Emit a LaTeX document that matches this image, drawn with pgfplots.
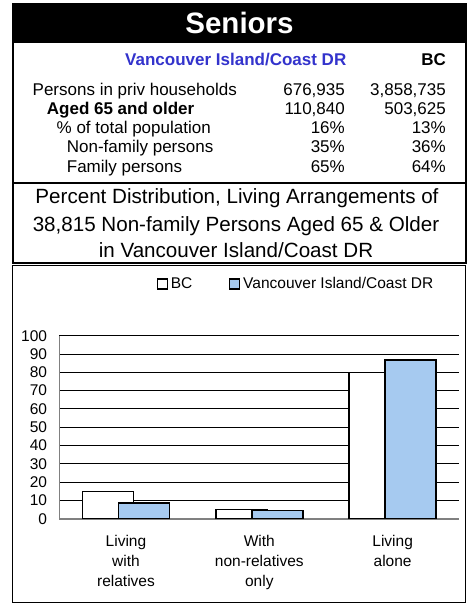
\documentclass[border=0pt]{standalone}
\usepackage{pgfplots}
\pgfplotsset{compat=1.18}
\usepackage{fontspec}
\setmainfont{Liberation Sans}
\definecolor{vibar}{RGB}{166,202,240}
\definecolor{hdrblue}{RGB}{51,51,204}
\begin{document}
\begin{tikzpicture}
\useasboundingbox (0,0) rectangle (469bp,-603bp);
% black title band
\fill[black] (12bp,-3.3bp) rectangle (467bp,-42.7bp);
\node[text=white, inner sep=0pt, anchor=base, font=\fontsize{29.5bp}{34bp}\selectfont\bfseries] at (239.5bp,-33.8bp) {Seniors};
% table box
\draw[line width=2bp] (13bp,-42.7bp) -- (13bp,-182.5bp) -- (466bp,-182.5bp) -- (466bp,-42.7bp);
% subtitle box
\draw[line width=2bp] (13bp,-182.5bp) -- (13bp,-263bp) -- (466bp,-263bp) -- (466bp,-182.5bp);
% chart box
\draw[line width=1bp] (12.5bp,-265.5bp) rectangle (465.5bp,-602bp);
% table
\begin{scope}[every node/.style={inner sep=0pt, font=\fontsize{17bp}{20bp}\selectfont}]
\node[anchor=base east, text=hdrblue, font=\fontsize{17bp}{20bp}\selectfont\bfseries] at (346.5bp,-65bp) {Vancouver Island/Coast DR};
\node[anchor=base east, font=\fontsize{17bp}{20bp}\selectfont\bfseries] at (446bp,-65bp) {BC};
\node[anchor=base west] at (32.5bp,-95bp) {Persons in priv households};
\node[anchor=base west, font=\fontsize{17bp}{20bp}\selectfont\bfseries] at (46.7bp,-114.3bp) {Aged 65 and older};
\node[anchor=base west] at (56.5bp,-133.3bp) {\% of total population};
\node[anchor=base west] at (66.7bp,-152.7bp) {Non-family persons};
\node[anchor=base west] at (66.7bp,-172.7bp) {Family persons};
\node[anchor=base east] at (345bp,-95bp) {676,935};
\node[anchor=base east] at (345bp,-114.3bp) {110,840};
\node[anchor=base east] at (345bp,-133.3bp) {16\%};
\node[anchor=base east] at (345bp,-152.7bp) {35\%};
\node[anchor=base east] at (345bp,-172.7bp) {65\%};
\node[anchor=base east] at (446bp,-95bp) {3,858,735};
\node[anchor=base east] at (446bp,-114.3bp) {503,625};
\node[anchor=base east] at (446bp,-133.3bp) {13\%};
\node[anchor=base east] at (446bp,-152.7bp) {36\%};
\node[anchor=base east] at (446bp,-172.7bp) {64\%};
\end{scope}
% subtitle
\begin{scope}[every node/.style={inner sep=0pt, anchor=base, font=\fontsize{20.6bp}{24bp}\selectfont}]
\node at (237bp,-203.7bp) {Percent Distribution, Living Arrangements of};
\node at (236bp,-231.3bp) {38,815 Non-family Persons Aged 65 \& Older};
\node at (236bp,-257bp) {in Vancouver Island/Coast DR};
\end{scope}
\begin{axis}[
  at={(59.3bp,-518.7bp)}, anchor=south west,
  scale only axis, width=400bp, height=183bp,
  xmin=-0.5, xmax=2.5, ymin=0, ymax=100,
  ybar, bar width=0.383,
  legend image code/.code={\draw[#1, draw=black, line width=1.2bp] (0bp,-5bp) rectangle (10bp,5bp);},
  axis lines*=left,
  x axis line style={draw=gray, line width=1.6bp},
  y axis line style={draw=gray, line width=1.2bp},
  ymajorgrids, grid style={black, line width=0.9bp},
  major tick length=0pt,
  ytick={0,10,...,100},
  xtick={0,1,2},
  xticklabels={{Living\\with\\relatives},{With\\non-relatives\\only},{Living\\alone}},
  /pgf/number format/assume math mode=true,
  tick label style={font=\fontsize{15.5bp}{20bp}\selectfont},
  yticklabel style={inner sep=0pt, xshift=-12bp},
  xticklabel style={inner sep=0pt, align=center, yshift=-16.7bp},
  legend columns=2,
  legend style={at={(0.2435,1.2825)}, anchor=west, draw=none, fill=none, inner sep=0pt,
    font=\fontsize{15.5bp}{18bp}\selectfont,
    nodes={inner xsep=2.8bp, inner ysep=2bp},
    /tikz/every even column/.append style={column sep=34bp}},
]
\addplot[fill=white, draw=black, line width=1.5bp, bar shift=-0.135] coordinates {(0,15) (1,5.1) (2,80)};
\addplot[fill=vibar, draw=black, line width=1.5bp, bar shift=0.135] coordinates {(0,8.7) (1,4.6) (2,86.7)};
\legend{BC, Vancouver Island/Coast DR}
\end{axis}
\end{tikzpicture}
\end{document}
